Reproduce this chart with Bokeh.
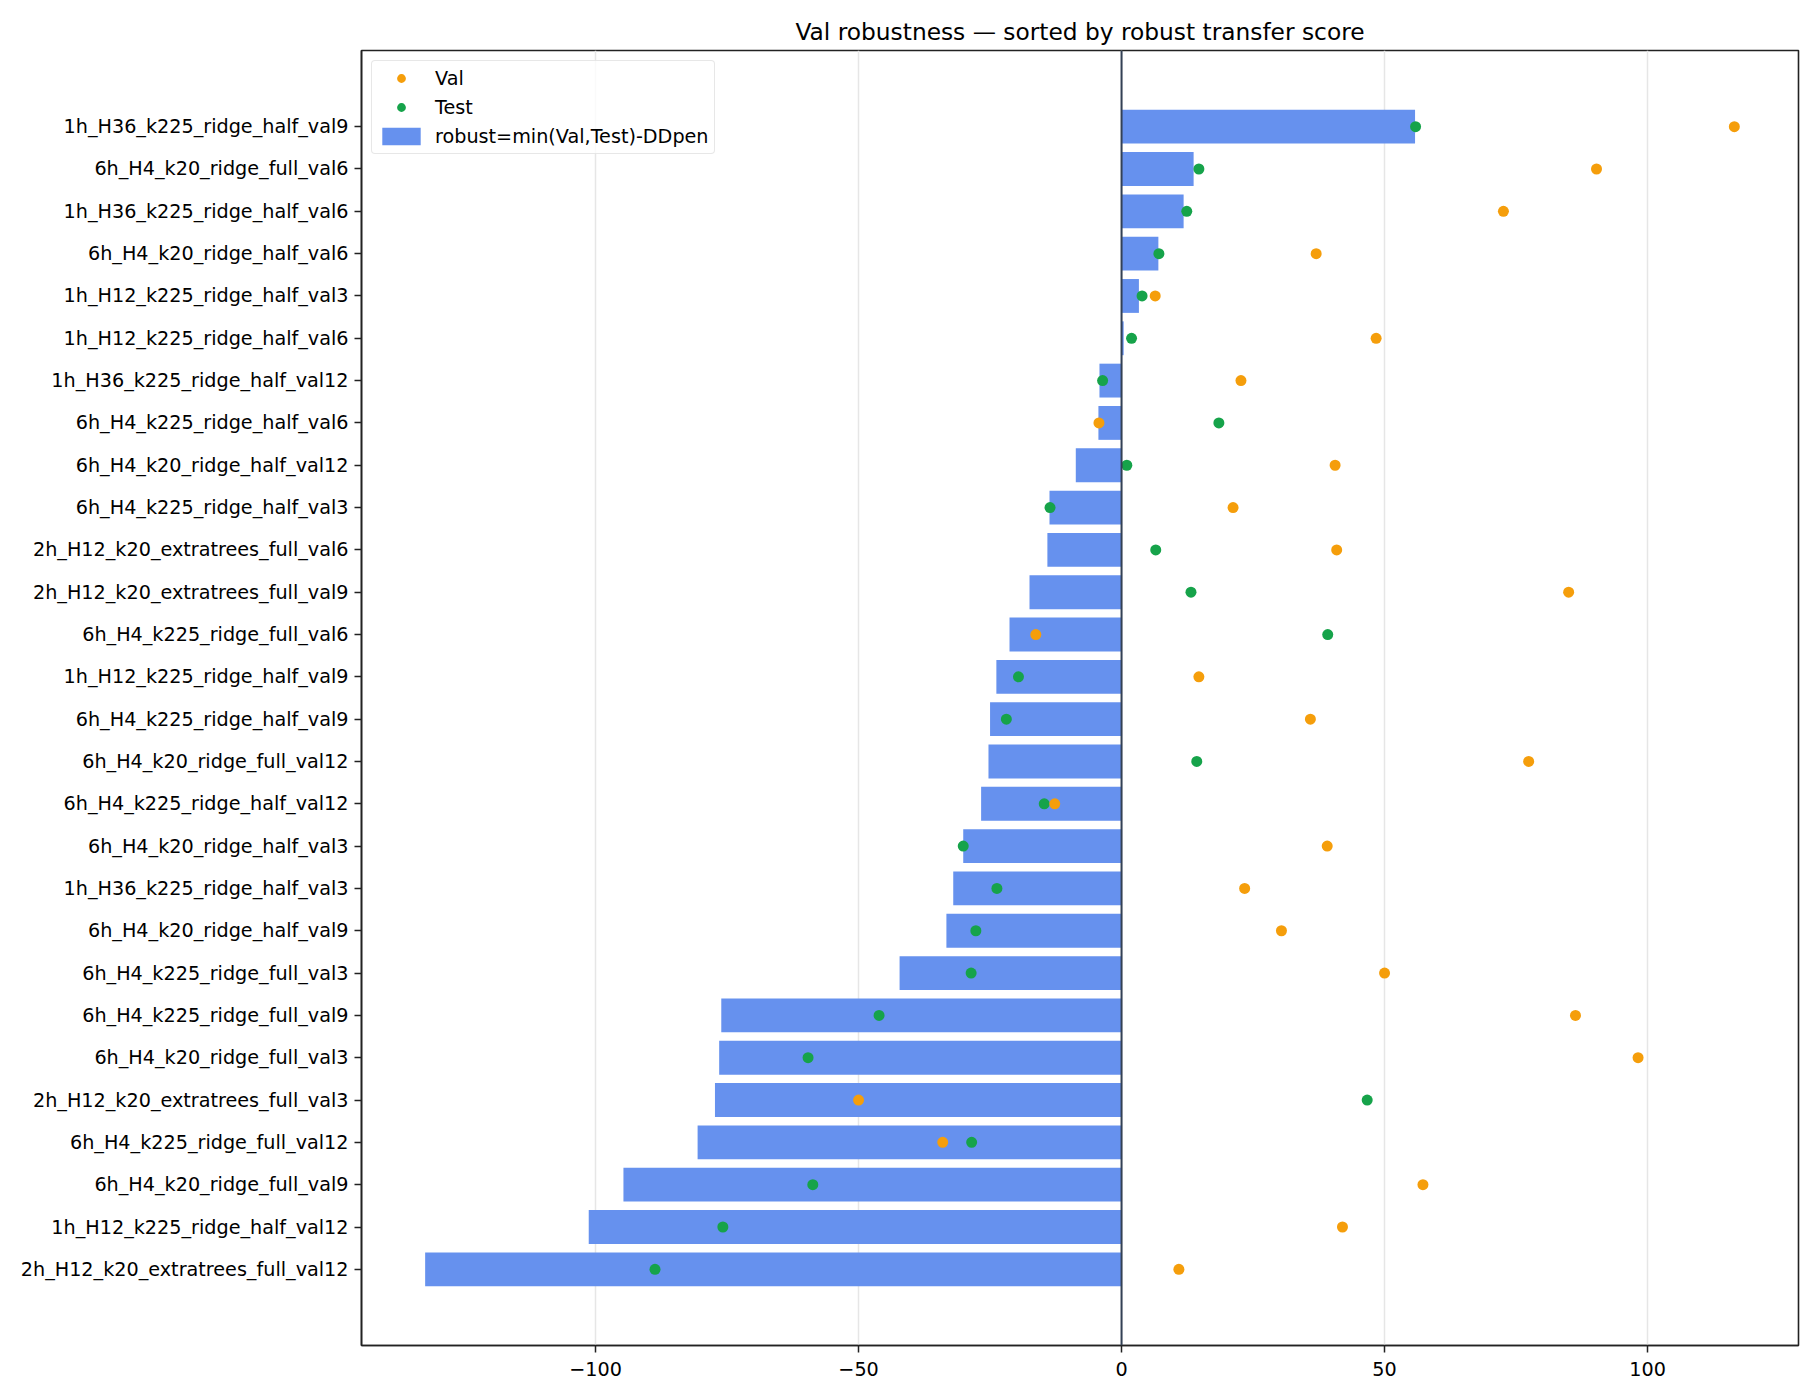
from bokeh.plotting import figure
from bokeh.models import (Range1d, FixedTicker, Span, Legend, LegendItem, ColumnDataSource)
from bokeh.embed import file_html
from bokeh.resources import INLINE

labels = [
    "1h_H36_k225_ridge_half_val9",
    "6h_H4_k20_ridge_full_val6",
    "1h_H36_k225_ridge_half_val6",
    "6h_H4_k20_ridge_half_val6",
    "1h_H12_k225_ridge_half_val3",
    "1h_H12_k225_ridge_half_val6",
    "1h_H36_k225_ridge_half_val12",
    "6h_H4_k225_ridge_half_val6",
    "6h_H4_k20_ridge_half_val12",
    "6h_H4_k225_ridge_half_val3",
    "2h_H12_k20_extratrees_full_val6",
    "2h_H12_k20_extratrees_full_val9",
    "6h_H4_k225_ridge_full_val6",
    "1h_H12_k225_ridge_half_val9",
    "6h_H4_k225_ridge_half_val9",
    "6h_H4_k20_ridge_full_val12",
    "6h_H4_k225_ridge_half_val12",
    "6h_H4_k20_ridge_half_val3",
    "1h_H36_k225_ridge_half_val3",
    "6h_H4_k20_ridge_half_val9",
    "6h_H4_k225_ridge_full_val3",
    "6h_H4_k225_ridge_full_val9",
    "6h_H4_k20_ridge_full_val3",
    "2h_H12_k20_extratrees_full_val3",
    "6h_H4_k225_ridge_full_val12",
    "6h_H4_k20_ridge_full_val9",
    "1h_H12_k225_ridge_half_val12",
    "2h_H12_k20_extratrees_full_val12",
]

robust = [55.8, 13.7, 11.8, 7.0, 3.3, 0.4, -4.2, -4.4, -8.7, -13.7, -14.1, -17.5,
          -21.3, -23.8, -25.0, -25.3, -26.7, -30.1, -32.0, -33.3, -42.2, -76.1,
          -76.5, -77.3, -80.6, -94.7, -101.3, -132.4]
val = [116.5, 90.3, 72.6, 37.0, 6.4, 48.4, 22.7, -4.3, 40.6, 21.2, 40.9, 85.0,
       -16.3, 14.7, 35.9, 77.4, -12.7, 39.1, 23.4, 30.4, 50.0, 86.3, 98.2, -50.0,
       -34.0, 57.3, 42.0, 10.9]
test = [55.9, 14.7, 12.4, 7.1, 3.9, 1.9, -3.6, 18.5, 1.0, -13.6, 6.5, 13.2,
        39.2, -19.6, -21.9, 14.3, -14.7, -30.1, -23.7, -27.7, -28.6, -46.1,
        -59.6, 46.7, -28.5, -58.7, -75.8, -88.7]

x_ticks = [-100, -50, 0, 50, 100]
title_text = "Val robustness \u2014 sorted by robust transfer score"

n = len(labels)
pos = [n - 1 - i for i in range(n)]

src = ColumnDataSource(dict(y=pos, robust=robust, val=val, test=test, label=labels))

FONT = "DejaVu Sans"
FS = "19.2px"
BAR_COLOR = "#6691ee"

p = figure(
    width=1806, height=1392,
    frame_width=1437, frame_height=1295,
    min_border_left=361, min_border_top=50, min_border_right=8, min_border_bottom=47,
    x_range=Range1d(-144.5, 128.7), y_range=Range1d(-1.8, n - 1 + 1.8),
    output_backend="svg", toolbar_location=None,
)

p.title.text = title_text
p.title.align = "center"
p.title.text_font = FONT
p.title.text_font_size = "23.3px"
p.title.text_font_style = "normal"
p.title.text_color = "#000000"
p.title.standoff = 12

bars = p.hbar(y="y", right="robust", left=0, height=0.8, source=src,
              fill_color=BAR_COLOR, line_color=None)
zero = Span(location=0, dimension="height", line_color="#334155", line_width=2)
p.add_layout(zero)
t = p.scatter(x="test", y="y", source=src, size=11, fill_color="#16a34a",
              line_color=None, marker="circle")
v = p.scatter(x="val", y="y", source=src, size=11, fill_color="#f59e0b",
              line_color=None, marker="circle")

# axes
p.xaxis.ticker = FixedTicker(ticks=x_ticks)
p.xaxis.major_label_overrides = {tk: (("\u2212" + str(-tk)) if tk < 0 else str(tk)) for tk in x_ticks}
p.yaxis.ticker = FixedTicker(ticks=pos)
p.yaxis.major_label_overrides = {pp: lab for pp, lab in zip(pos, labels)}

for ax in (p.xaxis[0], p.yaxis[0]):
    ax.major_label_text_font = FONT
    ax.major_label_text_font_size = FS
    ax.major_label_text_color = "#000000"
    ax.major_tick_out = 7
    ax.major_tick_in = 0
    ax.minor_tick_out = 0
    ax.minor_tick_in = 0
    ax.axis_line_color = "#222222"
    ax.axis_line_width = 1.6
    ax.major_tick_line_color = "#222222"
    ax.major_tick_line_width = 1.5
p.xaxis.major_label_standoff = 9
p.yaxis.major_label_standoff = 6

p.outline_line_color = "#222222"
p.outline_line_width = 1.6
p.outline_line_alpha = 1.0

p.xgrid.ticker = FixedTicker(ticks=x_ticks)
p.xgrid.grid_line_color = "#e6e6e6"
p.xgrid.grid_line_width = 1.5
p.ygrid.grid_line_color = None

legend = Legend(items=[
    LegendItem(label="Val", renderers=[v]),
    LegendItem(label="Test", renderers=[t]),
    LegendItem(label="robust=min(Val,Test)-DDpen", renderers=[bars]),
], location="top_left")
legend.label_text_font = FONT
legend.label_text_font_size = FS
legend.label_text_color = "#000000"
legend.glyph_width = 48
legend.glyph_height = 22
legend.label_height = 24
legend.label_standoff = 10
legend.spacing = 5
legend.padding = 5
legend.margin = 10
legend.border_line_color = "#d0d0d0"
legend.border_line_width = 1.5
legend.background_fill_alpha = 0.8
if "border_radius" in legend.properties():
    legend.border_radius = 4
p.add_layout(legend)

open("out.html", "w").write(file_html(p, INLINE))
